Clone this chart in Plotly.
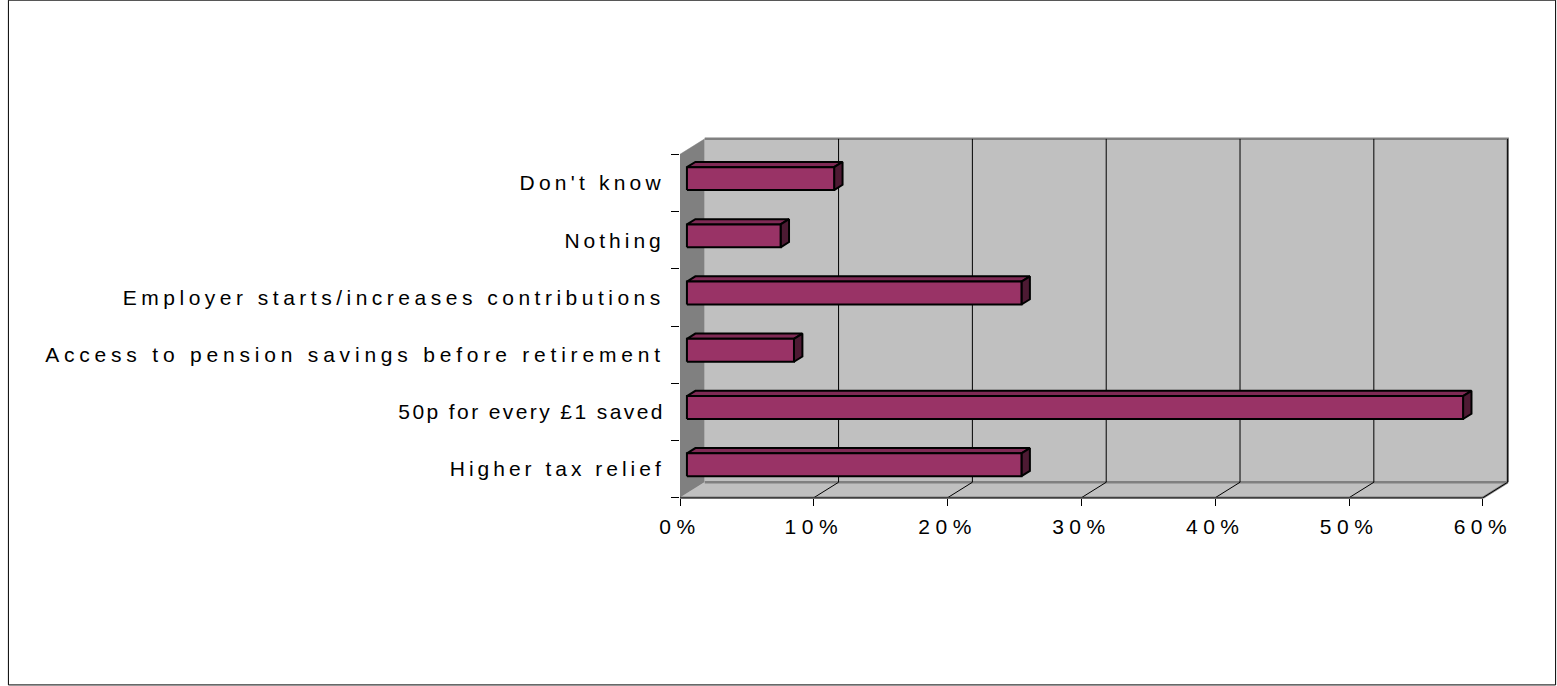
import plotly.graph_objects as go

# ---------------- data ----------------
categories = [
    "Higher tax relief",
    "50p for every £1 saved",
    "Access to pension savings before retirement",
    "Employer starts/increases contributions",
    "Nothing",
    "Don't know",
]
values = [25, 58, 8, 25, 7, 11]
x_ticks = [0, 10, 20, 30, 40, 50, 60]
x_tick_labels = ["0%", "10%", "20%", "30%", "40%", "50%", "60%"]

# ---------------- geometry / style ----------------
label_spacing = [4.0, 2.4, 4.8, 4.5, 4.0, 4.2]   # letter-spacing (px) per category label

W, H = 1557, 686
X0_PX, SX = 680.0, 13.38      # pixel of 0% and px per %
Y0_PX, SY = 497.5, 57.17      # pixel of floor front edge and px per category
XR = [0.0, 62.1]
YR = [-0.04, 6.32]
DX, DY = 1.85, 0.27           # 3-D depth offset (data units)
F1, F2 = 0.28, 0.62           # bar front/back depth fractions
HALF = 0.2                    # half bar height
XMAX = x_ticks[-1]
NCAT = len(categories)

L = X0_PX
PW = (XR[1] - XR[0]) * SX
R = W - (L + PW)
TOP_PX = Y0_PX - YR[1] * SY
BOT_PX = Y0_PX - YR[0] * SY
T = TOP_PX
B = H - BOT_PX
PH = BOT_PX - TOP_PX

WALL = "#C0C0C0"
SIDE = "#808080"
BAR_FRONT = "#993366"
BAR_TOP = "#7F2A55"
BAR_SIDE = "#4D1A33"

fig = go.Figure()


def poly(xs, ys, fill, line_color, lw):
    fig.add_trace(go.Scatter(
        x=xs + [xs[0]], y=ys + [ys[0]], mode="lines", fill="toself",
        fillcolor=fill, line=dict(color=line_color, width=lw),
        hoverinfo="skip", showlegend=False, xaxis="x", yaxis="y"))


def lines(xs, ys, color, lw):
    fig.add_trace(go.Scatter(
        x=xs, y=ys, mode="lines", line=dict(color=color, width=lw),
        hoverinfo="skip", showlegend=False, xaxis="x", yaxis="y"))


# walls
poly([0, DX, DX, 0], [0, DY, NCAT + DY, NCAT], SIDE, SIDE, 0.5)
poly([DX, XMAX + DX, XMAX + DX, DX], [DY, DY, NCAT + DY, NCAT + DY], WALL, WALL, 0.5)
poly([0, XMAX, XMAX + DX, DX], [0, 0, DY, DY], WALL, WALL, 0.5)

# wall borders (gray)
lines([DX, XMAX + DX, XMAX + DX], [NCAT + DY, NCAT + DY, DY], SIDE, 2.5)
lines([DX, XMAX + DX, None, XMAX, XMAX + DX], [DY, DY, None, 0, DY], SIDE, 2.5)

# gridlines on back wall and floor
gx, gy = [], []
for t in x_ticks[1:]:
    gx += [t, t + DX, t + DX, None]
    gy += [0, DY, NCAT + DY, None]
lines(gx, gy, "#000000", 1)

# floor front edge
lines([0, XMAX], [0, 0], "#404040", 2)

# bars
for i, v in enumerate(values):
    yc = i + 0.5
    x1, x2 = F1 * DX, F2 * DX
    y1, y2 = F1 * DY, F2 * DY
    lo, hi = yc - HALF, yc + HALF
    # top face
    poly([x1, v + x1, v + x2, x2], [hi + y1, hi + y1, hi + y2, hi + y2], BAR_TOP, "#000000", 2)
    # side face
    poly([v + x1, v + x2, v + x2, v + x1], [lo + y1, lo + y2, hi + y2, hi + y1], BAR_SIDE, "#000000", 2)
    # front face
    poly([x1, v + x1, v + x1, x1], [lo + y1, lo + y1, hi + y1, hi + y1], BAR_FRONT, "#000000", 2)

# overlay axis carrying the category tick marks
fig.add_trace(go.Scatter(x=[None], y=[None], xaxis="x", yaxis="y2",
                         showlegend=False, hoverinfo="skip"))

FONT = "Liberation Sans, Arial, sans-serif"
fig.update_layout(
    width=W, height=H, autosize=False,
    margin=dict(l=L, r=R, t=T, b=B, pad=0),
    paper_bgcolor="white", plot_bgcolor="white",
    showlegend=False,
    xaxis=dict(
        range=XR, showgrid=False, zeroline=False, showline=False,
        tickvals=x_ticks,
        ticktext=[f'<span style="letter-spacing:5.5px">{t}</span>' for t in x_tick_labels],
        ticks="outside", ticklen=7, tickwidth=1, tickcolor="#000000",
        tickfont=dict(family=FONT, size=21, color="#000000"),
        ticklabelstandoff=3,
        anchor="free", position=(0 - YR[0]) / (YR[1] - YR[0]),
        fixedrange=True,
    ),
    yaxis=dict(
        range=YR, showgrid=False, zeroline=False, showline=False,
        tickvals=[i + 0.5 for i in range(NCAT)],
        ticktext=[f'<span style="letter-spacing:{s}px">{c}</span>'
                  for c, s in zip(categories, label_spacing)],
        ticks="outside", ticklen=8, tickcolor="rgba(0,0,0,0)",
        tickfont=dict(family=FONT, size=21, color="#000000"),
        ticklabelstandoff=2,
        fixedrange=True,
    ),
    yaxis2=dict(
        range=YR, overlaying="y", side="left", showgrid=False, zeroline=False,
        showline=False, tickvals=list(range(NCAT + 1)), showticklabels=False,
        ticks="outside", ticklen=8, tickwidth=1, tickcolor="#000000",
        fixedrange=True,
    ),
    shapes=[dict(
        type="rect", xref="paper", yref="paper",
        x0=(8.5 - L) / PW, x1=(W - 1.5 - L) / PW,
        y0=(BOT_PX - (H - 1.5)) / PH, y1=(BOT_PX - 0.5) / PH,
        line=dict(color="#000000", width=1), fillcolor="rgba(0,0,0,0)", layer="above",
    )],
)

fig.write_html(
    "out.html",
    config={"displayModeBar": False, "staticPlot": True},
    post_script="document.body.style.margin='0';document.body.style.overflow='hidden';",
)
